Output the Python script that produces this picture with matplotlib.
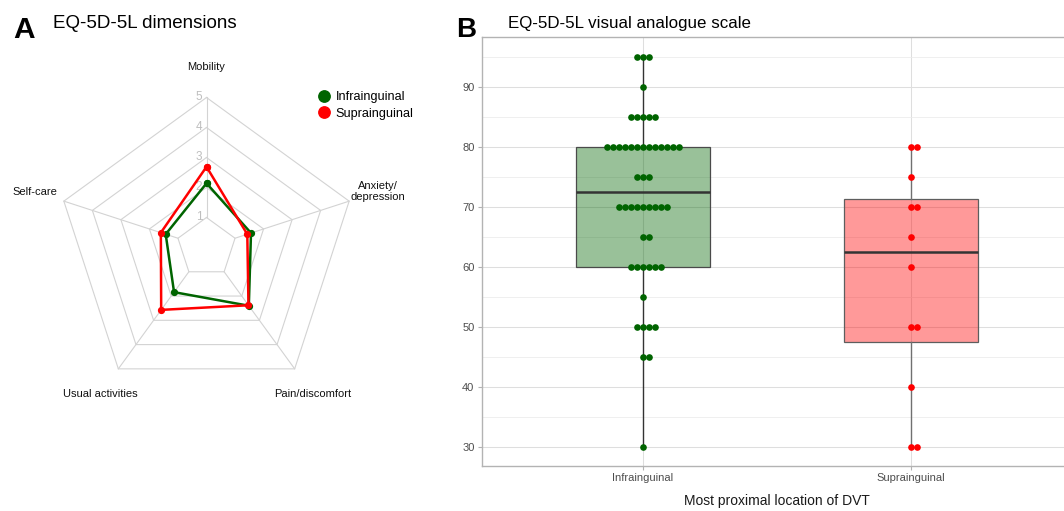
import numpy as np
import matplotlib
matplotlib.use("Agg")
import matplotlib.pyplot as plt
from matplotlib.lines import Line2D

plt.rcParams['font.family'] = ['Liberation Sans', 'DejaVu Sans']

# ---------------- Panel A data (radar) ----------------
dimensions = ["Mobility", "Self-care", "Usual activities", "Pain/discomfort", "Anxiety/\ndepression"]
infra_radar = [2.14, 1.43, 1.84, 2.40, 1.56]
supra_radar = [2.69, 1.60, 2.57, 2.38, 1.43]
radar_levels = [1, 2, 3, 4, 5]

# ---------------- Panel B data (VAS) ----------------
groups = ["Infrainguinal", "Suprainguinal"]
infra_vas_values = [95, 90, 85, 80, 75, 70, 65, 60, 55, 50, 45, 30]
infra_vas_counts = [3, 1, 5, 13, 3, 9, 2, 6, 1, 4, 2, 1]
supra_vas_values = [80, 75, 70, 65, 60, 50, 40, 30]
supra_vas_counts = [2, 1, 2, 1, 1, 2, 1, 2]
vas_ticks = [30, 40, 50, 60, 70, 80, 90]

GREEN = "#006400"
RED = "#FF0000"

W, H = 1064, 511
fig = plt.figure(figsize=(W / 100, H / 100), dpi=100)

# ================= Panel A =================
px_unit = 30.0
cx, cy = 206.5, 247.5
axA = fig.add_axes([0, 0, 440 / W, 1])
axA.set_xlim(-cx / px_unit, (440 - cx) / px_unit)
axA.set_ylim(-(H - cy) / px_unit, cy / px_unit)
axA.axis('off')

n_dim = len(dimensions)
theta = np.deg2rad(90 + 72 * np.arange(n_dim))
ct, st = np.cos(theta), np.sin(theta)

grid_col = "#D3D3D3"
for lvl in radar_levels:
    xs = np.append(lvl * ct, lvl * ct[0])
    ys = np.append(lvl * st, lvl * st[0])
    axA.plot(xs, ys, color=grid_col, lw=0.8, zorder=1)
for k in range(n_dim):
    axA.plot([radar_levels[0] * ct[k], radar_levels[-1] * ct[k]],
             [radar_levels[0] * st[k], radar_levels[-1] * st[k]],
             color=grid_col, lw=0.8, zorder=1)
for lvl in radar_levels:
    axA.text(-0.25, lvl, str(lvl), ha='center', va='center', color='#BEBEBE',
             fontsize=8.5, zorder=2)

for vals, col in [(infra_radar, GREEN), (supra_radar, RED)]:
    v = np.array(vals)
    xs = np.append(v * ct, v[0] * ct[0])
    ys = np.append(v * st, v[0] * st[0])
    axA.plot(xs, ys, color=col, lw=1.8, marker='o', markersize=4.2, zorder=3)

lab_r = 6.02
for k, name in enumerate(dimensions):
    axA.text(lab_r * ct[k], lab_r * st[k], name, ha='center', va='center',
             fontsize=8, color='#111111', linespacing=1.2)

handles = [Line2D([], [], marker='o', color=GREEN, linestyle='', markersize=8.2),
           Line2D([], [], marker='o', color=RED, linestyle='', markersize=8.2)]
axA.legend(handles, groups, loc='upper left', bbox_to_anchor=(318 / W, 1 - 91 / H),
           bbox_transform=fig.transFigure, frameon=False, borderpad=0, borderaxespad=0,
           handlelength=1.0, handletextpad=0.4, labelspacing=0.38, fontsize=9.1)

# ================= Panel B =================
left_px, right_px, top_px, bot_px = 481.7, 1072.3, 37.3, 466.0
axB = fig.add_axes([left_px / W, 1 - bot_px / H, (right_px - left_px) / W, (bot_px - top_px) / H])
axB.set_xlim(0.4, 2.6)
ymin, ymax = 30, 95
pad = (ymax - ymin) * 0.05
axB.set_ylim(ymin - pad, ymax + pad)

infra_vas = np.repeat(infra_vas_values, infra_vas_counts)
supra_vas = np.repeat(supra_vas_values, supra_vas_counts)

bp = axB.boxplot([infra_vas, supra_vas], positions=[1, 2], widths=0.5, patch_artist=True,
                 showfliers=False, showcaps=False, whis=1.5)
box_fill = [(0.0, 100 / 255, 0.0, 0.4), (1.0, 0.0, 0.0, 0.4)]
edge_cols = ["#4A4A4A", "#5E5E5E"]
whisk_cols = ["#333333", "#707070"]
for i in range(2):
    bp['boxes'][i].set_facecolor(box_fill[i])
    bp['boxes'][i].set_edgecolor(edge_cols[i])
    bp['boxes'][i].set_linewidth(0.9)
    bp['medians'][i].set_color("#333333")
    bp['medians'][i].set_linewidth(1.8)
    for w in bp['whiskers'][2 * i:2 * i + 2]:
        w.set_color(whisk_cols[i])
        w.set_linewidth(1.0)

px_per_x = (right_px - left_px) / (2.6 - 0.4)
dx = 6.0 / px_per_x
for pos, vals, cnts, col in [(1, infra_vas_values, infra_vas_counts, GREEN),
                             (2, supra_vas_values, supra_vas_counts, RED)]:
    xs, ys = [], []
    for v, n in zip(vals, cnts):
        offs = (np.arange(n) - (n - 1) // 2) * dx
        xs.extend(pos + offs)
        ys.extend([v] * n)
    axB.scatter(xs, ys, s=23, color=col, linewidths=0, zorder=4)

axB.set_xticks([1, 2])
axB.set_xticklabels(groups)
axB.set_yticks(vas_ticks)
axB.set_yticks([35, 45, 55, 65, 75, 85, 95], minor=True)
axB.grid(True, which='major', color='#DEDEDE', lw=0.75)
axB.grid(True, which='minor', axis='y', color='#EBEBEB', lw=0.55)
axB.set_axisbelow(True)
for sp in axB.spines.values():
    sp.set_color('#B3B3B3')
    sp.set_linewidth(1.0)
axB.tick_params(which='major', length=3, width=0.8, color='#B3B3B3', labelcolor='#4D4D4D',
                labelsize=8, pad=2.2)
axB.tick_params(which='minor', length=0)
axB.set_xlabel("Most proximal location of DVT", fontsize=10, color='#1A1A1A', labelpad=8)

# ================= Titles =================
fig.text(13.0 / W, 1 - 37.7 / H, "A", fontsize=21.5, fontweight='bold', va='baseline', ha='left')
fig.text(53.3 / W, 1 - 27.7 / H, "EQ-5D-5L dimensions", fontsize=13.5, va='baseline', ha='left')
fig.text(456.0 / W, 1 - 36.7 / H, "B", fontsize=20, fontweight='bold', va='baseline', ha='left')
fig.text(508.3 / W, 1 - 27.7 / H, "EQ-5D-5L visual analogue scale", fontsize=12.2,
         va='baseline', ha='left')

fig.savefig("out.png", dpi=100)
